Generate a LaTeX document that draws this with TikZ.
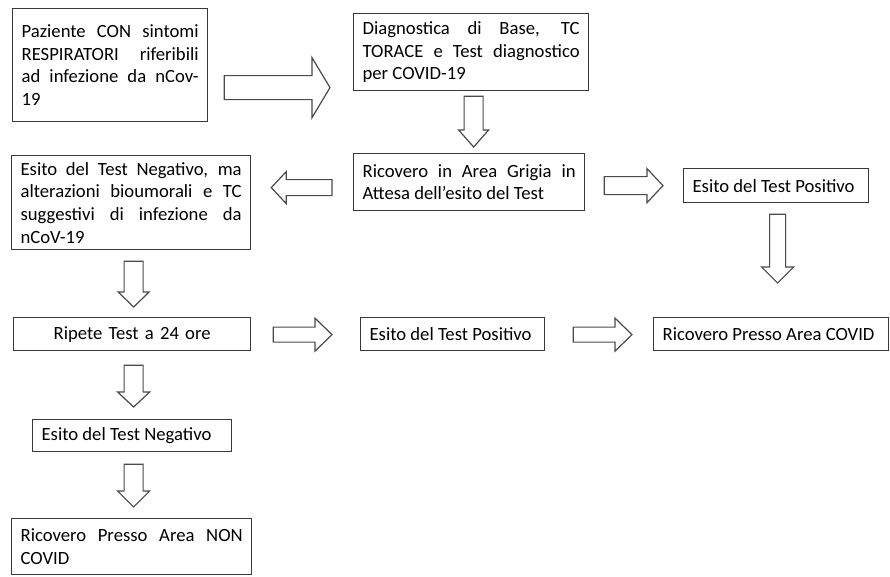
\documentclass[tikz,border=0pt]{standalone}
\usepackage{fontspec}
\setmainfont{Carlito}
\usepackage{tikz}
\usetikzlibrary{calc}
\definecolor{edge}{HTML}{383838}
\definecolor{arrowline}{HTML}{4A4A4A}

% hollow block arrows: tail, tip, shaft half width, head half width, head length
\newcommand{\harr}[5]{%
  \draw[blockarrow] ($(#1)+(0,#3)$) -- ($(#2)+({-(#5)},#3)$) -- ($(#2)+({-(#5)},#4)$) -- (#2)
    -- ($(#2)+({-(#5)},-#4)$) -- ($(#2)+({-(#5)},-#3)$) -- ($(#1)+(0,-#3)$) -- cycle;}
\newcommand{\varr}[5]{%
  \draw[blockarrow] ($(#1)+(#3,0)$) -- ($(#2)+(#3,{-(#5)})$) -- ($(#2)+(#4,{-(#5)})$) -- (#2)
    -- ($(#2)+(-#4,{-(#5)})$) -- ($(#2)+(-#3,{-(#5)})$) -- ($(#1)+(-#3,0)$) -- cycle;}

\begin{document}
\begin{tikzpicture}[x=0.75pt,y=-0.75pt,
    box/.style={draw=edge,line width=0.95pt,anchor=north west,inner xsep=6.75pt,
                inner ysep=1.5pt,align=justify,font=\fontsize{14}{17}\selectfont},
    blockarrow/.style={draw=arrowline,fill=white,line width=0.9pt,line join=miter}]
  \useasboundingbox (0,0) rectangle (890,576);

  \node[box,text width=132.75pt,minimum height=84.75pt] (pz) at (12,8)
    {Paziente CON sintomi\linebreak RESPIRATORI riferibili\linebreak ad infezione da nCov-\linebreak 19};
  \node[box,text width=162.75pt,minimum height=57.75pt] (dg) at (353,13)
    {Diagnostica di Base, TC\linebreak TORACE e Test diagnostico\linebreak per COVID-19};
  \node[box,text width=159.75pt,minimum height=42.75pt] (ag) at (353,153)
    {Ricovero in Area Grigia in\linebreak Attesa dell’esito del Test};
  \node[box,text width=165.75pt,minimum height=70.5pt] (ng) at (11,155)
    {Esito del Test Negativo, ma\linebreak alterazioni bioumorali e TC\linebreak suggestivi di infezione da\linebreak nCoV-19};
  \node[box,text width=125.25pt,minimum height=25.5pt] (ps) at (683,168) {Esito del Test Positivo};
  \node[box,text width=164.25pt,minimum height=24.75pt,align=center] (rt) at (13,317) {Ripete Test a 24 ore};
  \node[box,text width=124.5pt,minimum height=24.75pt] (p2) at (360,317) {Esito del Test Positivo};
  \node[box,text width=162.75pt,minimum height=24.75pt] (cv) at (653,317) {Ricovero Presso Area COVID};
  \node[box,text width=135.75pt,minimum height=24pt] (nt) at (32,419) {Esito del Test Negativo};
  \node[box,text width=166.5pt,minimum height=42pt] (nc) at (11,518)
    {Ricovero Presso Area NON\linebreak COVID};

  % arrow ends
  \coordinate (a1) at ($(pz.east)+(16,22.5)$);  \coordinate (b1) at ($(dg.west)+(-23,35.5)$);
  \coordinate (a2) at ($(dg.south)+(2.5,5)$);   \coordinate (b2) at ($(ag.north)+(4.5,-6)$);
  \coordinate (a3) at ($(ag.west)+(-21,5.5)$);  \coordinate (b3) at ($(ng.east)+(20,-15)$);
  \coordinate (a4) at ($(ag.east)+(19,3.5)$);   \coordinate (b4) at ($(ps.west)+(-20,0)$);
  \coordinate (a5) at ($(ps.south)+(1.5,11)$);  \coordinate (b5) at ($(cv.north)+(6.5,-34)$);
  \coordinate (a6) at ($(ng.south)+(2.5,11)$);  \coordinate (b6) at ($(rt.north)+(1.5,-10)$);
  \coordinate (a7) at ($(rt.east)+(22,0.5)$);   \coordinate (b7) at ($(p2.west)+(-28,0.5)$);
  \coordinate (a8) at ($(p2.east)+(28,0.5)$);   \coordinate (b8) at ($(cv.west)+(-21,0.5)$);
  \coordinate (a9) at ($(rt.south)+(1.5,14)$);  \coordinate (b9) at ($(nt.north)+(1.5,-12)$);
  \coordinate (a10) at ($(nt.south)+(1.5,12)$); \coordinate (b10) at ($(nc.north)+(2,-11)$);

  \harr{a1}{b1}{12}{30}{18}
  \varr{a2}{b2}{9.5}{15}{17}
  \harr{a3}{b3}{8}{16}{-15}
  \harr{a4}{b4}{9}{17}{16}
  \varr{a5}{b5}{8}{16}{16}
  \varr{a6}{b6}{9.5}{15.5}{15}
  \harr{a7}{b7}{7.5}{16.5}{17}
  \harr{a8}{b8}{7.5}{16.5}{17}
  \varr{a9}{b9}{9.5}{16}{15}
  \varr{a10}{b10}{9.5}{16}{16}
\end{tikzpicture}
\end{document}
